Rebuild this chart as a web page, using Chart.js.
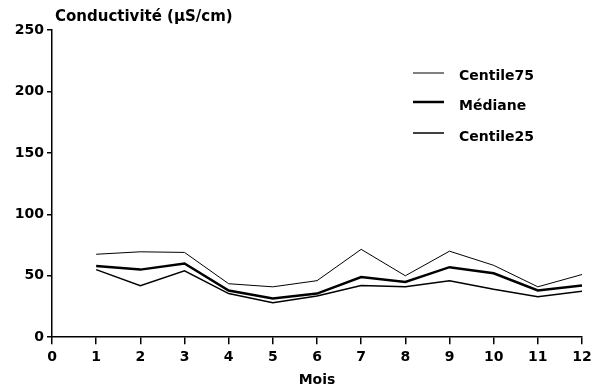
<!DOCTYPE html>
<html><head><meta charset="utf-8">
<script src="https://cdn.jsdelivr.net/npm/chart.js@4/dist/chart.umd.min.js"></script>
<style>html,body{margin:0;padding:0;background:#fff}canvas{display:block}</style>
</head><body>
<canvas id="c" width="602" height="392"></canvas>
<script>
const months = [1,2,3,4,5,6,7,8,9,10,11,12];
const centile75 = [67.5,69.5,69,43.5,41,46,71.5,50,70,58.5,41,51];
const mediane = [58,55,60,38,31.5,35.5,49,45,57,52,38,42];
const centile25 = [55,42,54,35.5,28,33.5,42,41,46,39,33,37.5];
const yTicks = [0,50,100,150,200,250];
const xTicks = [0,1,2,3,4,5,6,7,8,9,10,11,12];
const FONT = "'DejaVu Sans', sans-serif";

const pts = arr => arr.map((v,i)=>({x:months[i], y:v}));

const overlay = {
  id:'overlay',
  afterDraw(chart){
    const ctx = chart.ctx;
    ctx.save();
    ctx.fillStyle = '#000';
    ctx.font = 'bold 15px ' + FONT;
    ctx.textBaseline = 'middle';
    ctx.textAlign = 'left';
    ctx.fillText('Conductivité (µS/cm)', 55, 17);
    // legend
    const lineY = [73,102,133];
    const textY = [76,106,137];
    chart.data.datasets.forEach((ds,i)=>{
      ctx.strokeStyle = ds.borderColor;
      ctx.lineWidth = ds.borderWidth;
      ctx.beginPath(); ctx.moveTo(413,lineY[i]); ctx.lineTo(444,lineY[i]); ctx.stroke();
      ctx.font = 'bold 14px ' + FONT;
      ctx.fillText(ds.label, 459, textY[i]);
    });
    ctx.restore();
  }
};

new Chart(document.getElementById('c'), {
  type:'line',
  data:{ datasets:[
    {label:'Centile75', data:pts(centile75), borderColor:'#000', borderWidth:1, pointRadius:0, tension:0, fill:false},
    {label:'Médiane', data:pts(mediane), borderColor:'#000', borderWidth:2.5, pointRadius:0, tension:0, fill:false},
    {label:'Centile25', data:pts(centile25), borderColor:'#000', borderWidth:1.5, pointRadius:0, tension:0, fill:false}
  ]},
  options:{
    responsive:false, animation:false,
    layout:{padding:{top:30,right:20,left:0,bottom:4}},
    plugins:{legend:{display:false}, tooltip:{enabled:false}, title:{display:false}},
    scales:{
      x:{type:'linear', min:0, max:12,
        afterBuildTicks(s){ s.ticks = xTicks.map(v=>({value:v})); },
        grid:{display:true, drawOnChartArea:false, drawTicks:true, tickLength:7, color:'#000', lineWidth:1.5},
        border:{display:true, color:'#000', width:1.5},
        ticks:{color:'#000', font:{family:FONT, size:14, weight:'bold', lineHeight:1.1}, padding:5, maxRotation:0, autoSkip:false},
        title:{display:true, text:'Mois', color:'#000', font:{family:FONT, size:14, weight:'bold', lineHeight:1.1}, padding:{top:3,bottom:0}}
      },
      y:{min:0, max:250,
        afterBuildTicks(s){ s.ticks = yTicks.map(v=>({value:v})); },
        afterFit(s){ s.width = 52; },
        grid:{display:true, drawOnChartArea:false, drawTicks:true, tickLength:5, color:'#000', lineWidth:1.5},
        border:{display:true, color:'#000', width:1.5},
        ticks:{color:'#000', font:{family:FONT, size:14, weight:'bold'}, padding:3}
      }
    }
  },
  plugins:[overlay]
});
</script>
</body></html>
